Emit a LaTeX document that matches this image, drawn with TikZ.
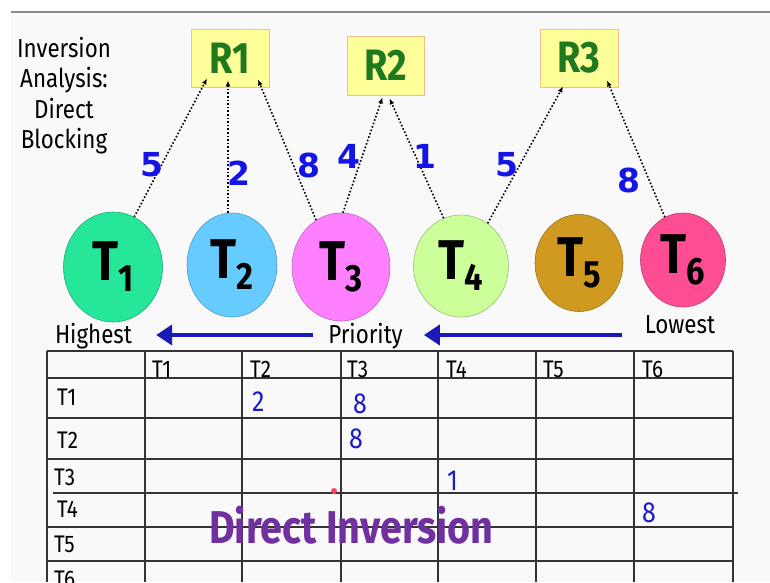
\documentclass[tikz,border=0pt]{standalone}
\usepackage{fontspec}
\setmainfont{Fira Sans}[FakeStretch=0.86]
\newfontfamily\numfont{DejaVu Sans}
\usepackage{xcolor}
\definecolor{invBg}{HTML}{F9F9F9}
\definecolor{invRule}{HTML}{8C8C8C}
\definecolor{resFill}{HTML}{FFFF99}
\definecolor{resBorder}{HTML}{F2C08C}
\definecolor{resText}{HTML}{1F7A1F}
\definecolor{tOne}{HTML}{26E69A}
\definecolor{tTwo}{HTML}{66CCFF}
\definecolor{tThree}{HTML}{FF80FF}
\definecolor{tFour}{HTML}{CCFF99}
\definecolor{tFive}{HTML}{D09A20}
\definecolor{tSix}{HTML}{FF4D94}
\definecolor{lblBlue}{HTML}{1414E6}
\definecolor{prioBlue}{HTML}{1A1AB8}
\definecolor{valBlue}{HTML}{1A1AC8}
\definecolor{invPurple}{HTML}{7030A0}
\definecolor{gridGray}{HTML}{333333}
\definecolor{dotRed}{HTML}{FF4466}
\usepackage{tikz}
\usetikzlibrary{
  shapes.geometric,
  arrows.meta
}
\newcommand{\tsub}[1]{{\fontsize{56}{56}\selectfont T}\raisebox{-11pt}{\fontsize{38}{38}\selectfont #1}}
\tikzset{
  resbox/.style={
    rectangle,draw=resBorder,fill=resFill,line width=0.8pt,
    minimum width=78pt,minimum height=58pt,inner sep=0pt,
    font=\fontsize{44}{44}\selectfont\bfseries,text=resText
  },
  taskball/.style={
    ellipse,draw=#1!75!black,fill=#1,line width=0.6pt,
    inner sep=0pt,font=\bfseries
  },
  blockarr/.style={-{Latex[length=6pt,width=5pt]},dotted,line width=1.6pt,color=black},
  wlbl/.style={
    font=\numfont\bfseries\fontsize{33}{33}\selectfont,
    text=lblBlue,inner sep=0pt,anchor=base
  },
  prio/.style={font=\fontsize{26}{26}\selectfont,inner sep=0pt,anchor=base},
  prioarr/.style={-{Triangle[length=16pt,width=20pt]},line width=4pt,color=prioBlue},
  ttl/.style={font=\fontsize{26}{30.5}\selectfont,align=center,inner sep=0pt},
  gridln/.style={line width=1.3pt,color=gridGray},
  cell/.style={font=\fontsize{24}{24}\selectfont,inner sep=0pt,anchor=base west},
  cellval/.style={font=\fontsize{29}{29}\selectfont,text=valBlue,inner sep=0pt,anchor=base west},
}

\begin{document}
\begin{tikzpicture}[x=1pt,y=1pt]
\useasboundingbox (0,0) rectangle (770,-582);
\fill[invBg] (11,-12) rectangle (770,-582);
\draw[invRule,line width=1.5pt] (11,-12) -- (770,-12);

\node[ttl,anchor=north] (title) at (64,-37) {Inversion\\Analysis:\\Direct\\Blocking};

\node[resbox] (R1) at (230,-58) {R1};
\node[resbox,minimum width=77pt,minimum height=59pt] (R2) at (385.5,-65.5) {R2};
\node[resbox] (R3) at (579,-58) {R3};

\node[taskball=tOne,minimum width=99pt,minimum height=110pt]  (T1) at (113,-267) {\tsub{1}};
\node[taskball=tTwo,minimum width=90pt,minimum height=104pt]  (T2) at (232,-265) {\tsub{2}};
\node[taskball=tThree,minimum width=98pt,minimum height=108pt] (T3) at (341,-267) {\tsub{3}};
\node[taskball=tFour,minimum width=95pt,minimum height=102pt] (T4) at (461,-266) {\tsub{4}};
\node[taskball=tFive,minimum width=88pt,minimum height=97pt]  (T5) at (579,-263) {\tsub{5}};
\node[taskball=tSix,minimum width=85pt,minimum height=94pt]   (T6) at (683,-260) {\tsub{6}};

\draw[blockarr] (T1.67) -- ([xshift=-23pt,yshift=9pt]R1.south);
\draw[blockarr] ([xshift=-4pt]T2.north) -- ([xshift=-2pt,yshift=7pt]R1.south);
\draw[blockarr] (T3.118) -- ([xshift=28pt,yshift=8pt]R1.south);
\draw[blockarr] (T3.88) -- ([xshift=-3pt,yshift=-2pt]R2.south);
\draw[blockarr] (T4.110) -- ([xshift=4pt,yshift=-3pt]R2.south);
\draw[blockarr] (T4.58) -- ([xshift=-16pt,yshift=1pt]R3.south);
\draw[blockarr] (T6.113) -- ([xshift=28pt,yshift=7pt]R3.south);

\node[wlbl] (w11) at (151.5,-176) {5};
\node[wlbl] (w21) at (239,-185) {2};
\node[wlbl] (w31) at (308.5,-177) {8};
\node[wlbl] (w32) at (348.5,-168) {4};
\node[wlbl] (w42) at (425,-168) {1};
\node[wlbl] (w43) at (506.5,-176) {5};
\node[wlbl] (w63) at (628.5,-192) {8};

\node[prio] (high) at (93.5,-343) {Highest};
\node[prio] (prio) at (365.5,-343) {Priority};
\node[prio] (low)  at (680,-333) {Lowest};
\draw[prioarr] ([xshift=-15pt,yshift=8pt]prio.base west) -- ([xshift=24pt,yshift=8pt]high.base east);
\draw[prioarr] ([xshift=-23pt,yshift=-2pt]low.base west) -- ([xshift=21pt,yshift=8pt]prio.base east);

\foreach \x in {47,145,242,341,438,536,634,733}
  \draw[gridln] (\x,-351) -- (\x,-582);
\foreach \y in {351,378,418,459,527,561}
  \draw[gridln] (47,-\y) -- (733,-\y);
\draw[gridln] (53,-493) -- (738,-493);

\node[cell] (c1) at (152,-377) {T1};
\node[cell] (c2) at (250,-377) {T2};
\node[cell] (c3) at (347,-377) {T3};
\node[cell] (c4) at (446,-377) {T4};
\node[cell] (c5) at (543,-377) {T5};
\node[cell] (c6) at (642,-377) {T6};
\node[cell] (r1) at (57,-405) {T1};
\node[cell] (r2) at (57,-448) {T2};
\node[cell] (r3) at (54,-485) {T3};
\node[cell] (r4) at (57,-517) {T4};
\node[cell] (r5) at (54,-552) {T5};
\node[cell] (r6) at (54,-587) {T6};

\node[cellval] (v12) at (252,-411) {2};
\node[cellval] (v13) at (353,-413) {8};
\node[cellval] (v23) at (349,-448) {8};
\node[cellval] (v34) at (447,-490) {1};
\node[cellval] (v46) at (642,-522) {8};

\fill[dotRed] (334,-491) circle (3pt);
\node[font=\fontsize{46}{46}\selectfont\bfseries,text=invPurple,inner sep=0pt,anchor=base] (dinv) at (351.5,-543) {Direct Inversion};

\end{tikzpicture}
\end{document}
